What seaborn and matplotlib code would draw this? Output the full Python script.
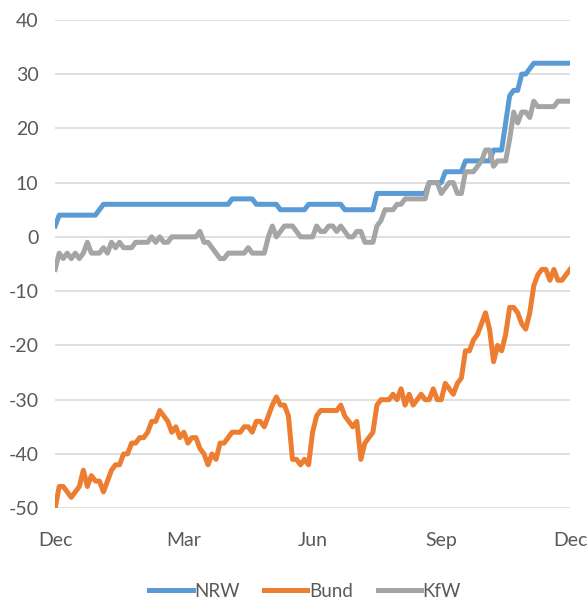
import numpy as np
import pandas as pd
import matplotlib
matplotlib.use("Agg")
import matplotlib.pyplot as plt
import seaborn as sns

# Data (one point roughly every second trading day)
nrw = [2, 4, 4, 4, 4, 4, 4, 4, 4, 4, 4, 5, 6, 6, 6, 6, 6, 6, 6, 6,
       6, 6, 6, 6, 6, 6, 6, 6, 6, 6, 6, 6, 6, 6, 6, 6, 6, 6, 6, 6,
       6, 6, 6, 6, 7, 7, 7, 7, 7, 7, 6, 6, 6, 6, 6, 6, 5, 5, 5, 5,
       5, 5, 5, 6, 6, 6, 6, 6, 6, 6, 6, 6, 5, 5, 5, 5, 5, 5, 5, 5,
       8, 8, 8, 8, 8, 8, 8, 8, 8, 8, 8, 8, 8, 10, 10, 10, 10, 12, 12, 12,
       12, 12, 14, 14, 14, 14, 14, 14, 14, 16, 16, 16, 21, 26, 27, 27, 30, 30, 31, 32,
       32, 32, 32, 32, 32, 32, 32, 32, 32]

bund = [-50, -46, -46, -47, -48, -47, -46, -43, -46, -44, -45, -45, -47, -45, -43, -42, -42, -40, -40, -38,
        -38, -37, -37, -36, -34, -34, -32, -33, -34, -36, -35, -37, -36, -38, -37, -37, -39, -40, -42, -40,
        -41, -38, -38, -37, -36, -36, -36, -35, -35, -36, -34, -34, -35, -33, -31, -29.5, -31, -31, -33, -41,
        -41, -42, -41, -42, -36, -33, -32, -32, -32, -32, -32, -31, -33, -34, -35, -34, -41, -38, -37, -36,
        -31, -30, -30, -30, -29, -30, -28, -31, -29, -31, -30, -29, -30, -30, -28, -30, -30, -27, -28, -29,
        -27, -26, -21, -21, -19, -18, -16, -14, -17, -23, -20, -21, -18, -13, -13, -14, -16, -17, -14, -9,
        -7, -6, -6, -8, -6, -8, -8, -7, -6]

kfw = [-6, -3, -4, -3, -4, -3, -4, -3, -1, -3, -3, -3, -2, -3, -1, -2, -1, -2, -2, -2,
       -1, -1, -1, -1, 0, -1, 0, -1, -1, 0, 0, 0, 0, 0, 0, 0, 1, -1, -1, -2,
       -3, -4, -4, -3, -3, -3, -3, -3, -2, -3, -3, -3, -3, 0, 2, 0, 1, 2, 2, 2,
       1, 0, 0, 0, 0, 2, 1, 1, 2, 2, 1, 2, 1, 0, 0, 1, 1, -1, -1, -1,
       2, 3, 5, 5, 5, 6, 6, 7, 7, 7, 7, 7, 7, 10, 10, 10, 8, 9, 10, 10,
       8, 8, 12, 12, 12, 13, 14, 16, 16, 13, 14, 14, 14, 18, 23, 21, 23, 23, 22, 25,
       24, 24, 24, 24, 24, 25, 25, 25, 25]

series_names = ["NRW", "Bund", "KfW"]
tick_labels = ["Dec", "Mar", "Jun", "Sep", "Dec"]

palette = {"NRW": "#5B9BD5", "Bund": "#ED7D31", "KfW": "#A5A5A5"}

n = len(nrw)
df = pd.concat([
    pd.DataFrame({"t": np.arange(n), "value": vals, "series": name})
    for name, vals in zip(series_names, [nrw, bund, kfw])
])

plt.rcParams['font.family'] = ['Lato', 'DejaVu Sans']
plt.rcParams['axes.unicode_minus'] = False

fig = plt.figure(figsize=(5.87, 6.0), dpi=100)
ax = fig.add_axes([0.094, 0.153, 0.877, 0.814])

sns.lineplot(data=df, x="t", y="value", hue="series", hue_order=series_names,
             palette=palette, linewidth=3.6, legend=False, ax=ax)

ax.set_xlim(0, n - 1)
ax.set_ylim(-50, 40)
ax.set_yticks(range(-50, 41, 10))
ax.set_xticks(np.linspace(0, n - 1, len(tick_labels)))
ax.set_xticklabels(tick_labels)
ax.set_xlabel("")
ax.set_ylabel("")

ax.grid(axis="y", color="#D9D9D9", linewidth=1.2)
ax.grid(axis="x", visible=False)
ax.set_axisbelow(True)
for s in ax.spines.values():
    s.set_visible(False)
ax.tick_params(axis="both", length=0, labelsize=14, colors="#595959")
ax.tick_params(axis="x", pad=17)
ax.tick_params(axis="y", pad=12)

# Legend below the plot
handles = [plt.Line2D([0], [0], color=palette[s], linewidth=3.6) for s in series_names]
fig.legend(handles, series_names, loc="lower center", bbox_to_anchor=(0.52, -0.028),
           ncol=3, frameon=False, fontsize=13.5, handlelength=2.3, handletextpad=0.1,
           columnspacing=1.3, labelcolor="#595959")

fig.savefig("out.png", dpi=100)
